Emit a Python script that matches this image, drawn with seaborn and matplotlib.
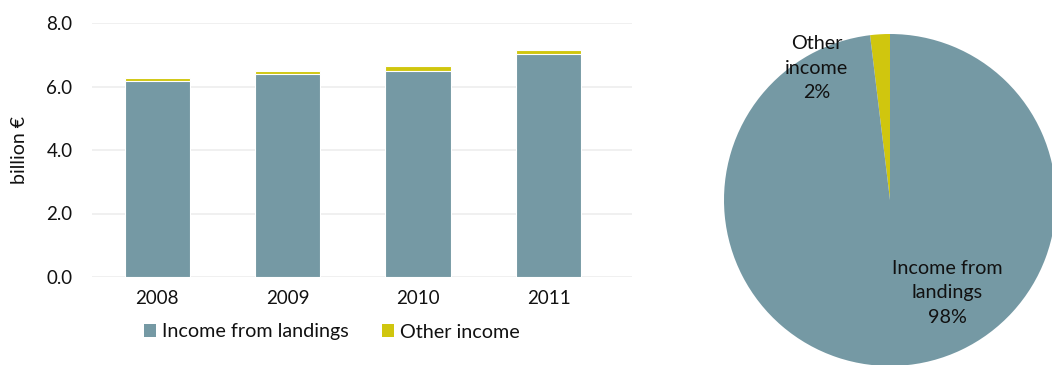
import matplotlib
matplotlib.use("Agg")
import matplotlib.pyplot as plt
import seaborn as sns
import numpy as np
import pandas as pd
from matplotlib.patches import Patch

years = ["2008", "2009", "2010", "2011"]
landings = [6.18, 6.38, 6.50, 7.01]
other = [0.10, 0.11, 0.16, 0.14]
series_names = ["Income from landings", "Other income"]
yticks = [0.0, 2.0, 4.0, 6.0, 8.0]

c_land = "#7599A4"
c_other = "#D0C60E"

sns.set_theme(style="white")
plt.rcParams["font.family"] = ["Lato", "DejaVu Sans"]

df = pd.DataFrame({"year": years, "landings": landings, "other": other})
df["total"] = df["landings"] + df["other"]

fig = plt.figure(figsize=(10.52, 3.65), dpi=100)
W, H = 1052, 365
ax = fig.add_axes([92 / W, (H - 277) / H, 540 / W, (277 - 23) / H])

sns.barplot(data=df, x="year", y="total", order=years, color=c_other,
            width=0.5, edgecolor="white", linewidth=0.8, saturation=1, ax=ax)
sns.barplot(data=df, x="year", y="landings", order=years, color=c_land,
            width=0.5, edgecolor="white", linewidth=0.8, saturation=1, ax=ax)

ax.set_xlim(-0.5, 3.64)
ax.set_ylim(0, 8.0)
ax.set_yticks(yticks)
ax.set_yticklabels([f"{v:.1f}" for v in yticks])
ax.yaxis.grid(True, color="#EDEDED", linewidth=1.2)
ax.set_axisbelow(True)
for s in ax.spines.values():
    s.set_visible(False)
ax.tick_params(axis="both", length=0, labelsize=13.5, colors="#111111")
ax.tick_params(axis="x", pad=9)
ax.tick_params(axis="y", pad=14)
ax.set_xlabel("")
ax.set_ylabel("billion €", fontsize=14, color="#111111", labelpad=13)

handles = [Patch(facecolor=c_land, edgecolor="none"), Patch(facecolor=c_other, edgecolor="none")]
fig.legend(handles, series_names, loc="center", bbox_to_anchor=(332 / W, (H - 332) / H),
           ncol=2, frameon=False, fontsize=14.2, handlelength=0.6, handleheight=0.6,
           handletextpad=0.3, columnspacing=1.7, labelcolor="#111111")

# Pie
cx, cy, r = 890, 200, 166
pax = fig.add_axes([(cx - r) / W, (H - cy - r) / H, 2 * r / W, 2 * r / H])
pie_vals = [sum(other), sum(landings)]
pie_labels = ["Other\nincome", "Income from\nlandings"]
wedges, _ = pax.pie(pie_vals, colors=[c_other, c_land], startangle=90,
                    counterclock=True, radius=1,
                    wedgeprops=dict(edgecolor="none"))
for w in wedges:
    w.set_clip_on(False)
pax.set_xlim(-1, 1)
pax.set_ylim(-1, 1)
pax.set_aspect("auto")
pax.axis("off")
pct = [v / sum(pie_vals) * 100 for v in pie_vals]
pax.text(-0.44, 0.795, f"{pie_labels[0]}\n{pct[0]:.0f}%", ha="center", va="center",
         fontsize=14.2, color="#111111", linespacing=1.55)
pax.text(0.345, -0.56, f"{pie_labels[1]}\n{pct[1]:.0f}%", ha="center", va="center",
         fontsize=14.2, color="#111111", linespacing=1.55)

fig.savefig("out.png", dpi=100)
